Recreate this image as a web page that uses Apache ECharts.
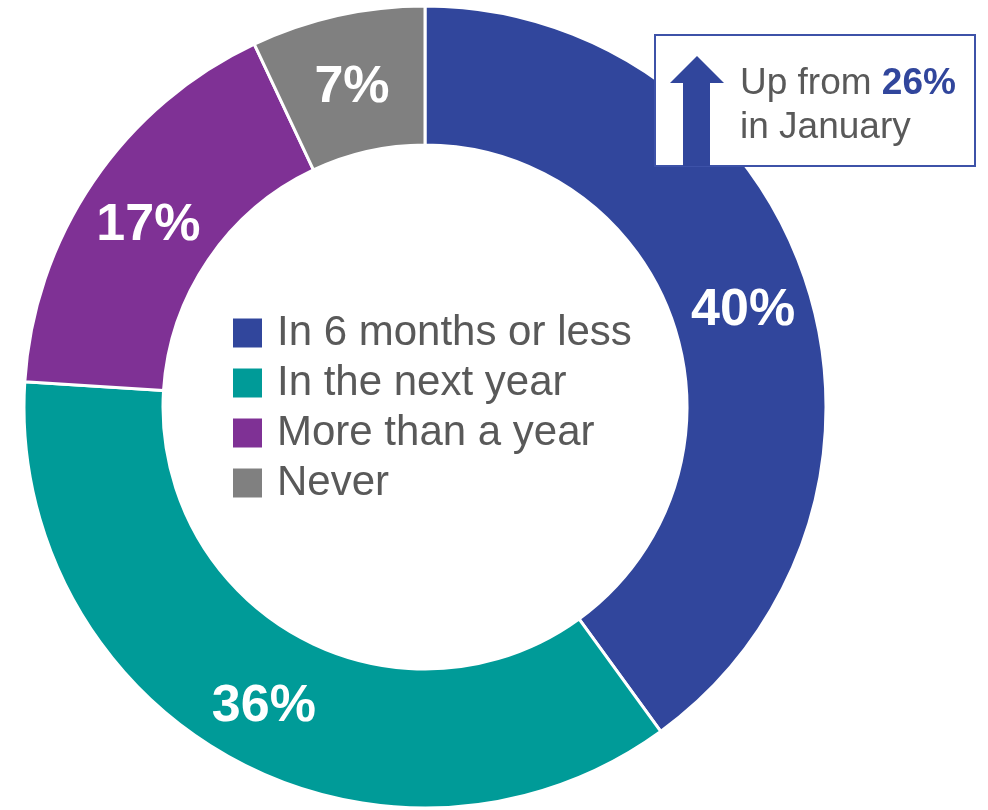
<!DOCTYPE html>
<html>
<head>
<meta charset="utf-8">
<script src="https://cdn.jsdelivr.net/npm/echarts@6/dist/echarts.min.js"></script>
<style>
  html, body { margin: 0; padding: 0; background: #fff; }
  #main { width: 988px; height: 810px; }
</style>
</head>
<body>
<div id="main"></div>
<script>
var categories = ['In 6 months or less', 'In the next year', 'More than a year', 'Never'];
var values = [40, 36, 17, 7];
var colors = ['#31469c', '#009b98', '#7f3195', '#808080'];
var previous = 26;

var myChart = echarts.init(document.getElementById('main'));

var data = categories.map(function (name, i) {
    return { name: name, value: values[i], itemStyle: { color: colors[i] } };
});

var option = {
    animation: false,
    legend: {
        orient: 'vertical',
        left: 226,
        top: 307,
        icon: 'rect',
        itemWidth: 31,
        itemHeight: 31,
        itemGap: 8,
        selectedMode: false,
        textStyle: {
            fontFamily: 'Liberation Sans, Arial, sans-serif',
            fontSize: 42,
            color: '#595959',
            padding: [0, 0, 0, 9]
        },
        data: categories
    },
    series: [{
        type: 'pie',
        center: [425, 407],
        radius: [262, 401],
        startAngle: 90,
        clockwise: true,
        silent: true,
        itemStyle: { borderColor: '#fff', borderWidth: 3 },
        label: {
            position: 'inside',
            formatter: '{c}%',
            color: '#fff',
            fontFamily: 'Liberation Sans, Arial, sans-serif',
            fontWeight: 'bold',
            fontSize: 52,
            offset: [0, 7]
        },
        labelLine: { show: false },
        data: data
    }],
    graphic: [
        {
            type: 'rect',
            shape: { x: 655, y: 35, width: 320, height: 131 },
            style: { fill: '#fff', stroke: '#3d52a8', lineWidth: 2 },
            z: 100
        },
        {
            type: 'polygon',
            shape: {
                points: [[697, 56], [724, 83], [710, 83], [710, 166], [683, 166], [683, 83], [670, 83]]
            },
            style: { fill: '#31469c' },
            z: 101
        },
        {
            type: 'text',
            x: 740,
            y: 62,
            style: {
                text: '{n|Up from }{b|' + previous + '%}\n{n|in January}',
                rich: {
                    n: { fontFamily: 'Liberation Sans, Arial, sans-serif', fontSize: 37, fill: '#595959', lineHeight: 44 },
                    b: { fontFamily: 'Liberation Sans, Arial, sans-serif', fontSize: 37, fontWeight: 'bold', fill: '#31469c', lineHeight: 44 }
                }
            },
            z: 102
        }
    ]
};

myChart.setOption(option);
</script>
</body>
</html>
